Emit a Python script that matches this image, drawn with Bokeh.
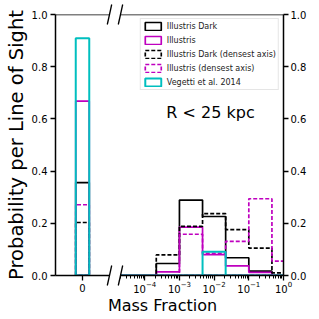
from bokeh.plotting import figure
from bokeh.layouts import row, column
from bokeh.models import (Range1d, FixedTicker, Legend, LegendItem, Label,
                          Span, PrintfTickFormatter)
from bokeh.embed import file_html
from bokeh.resources import INLINE

# ---------------- data ----------------
series_names = ["Illustris Dark", "Illustris", "Illustris Dark (densest axis)",
                "Illustris (densest axis)", "Vegetti et al. 2014"]

# "0" bin (zero mass fraction)
zero_edges = [-0.25, 0.25]
zero_dark = [0.356]
zero_illustris = [0.668]
zero_dark_dense = [0.203]
zero_illustris_dense = [0.271]
zero_vegetti = [0.909]

# log-spaced bins for non-zero mass fraction
bin_edges = [1e-5, 4.64e-5, 2.15e-4, 1e-3, 4.64e-3, 2.15e-2, 1e-1, 4.64e-1, 2.15, 10.0]
dark = [0, 0, 0.046, 0.289, 0.226, 0.068, 0.017, 0, 0]
illustris = [0, 0, 0.014, 0.185, 0.080, 0.037, 0.012, 0, 0]
dark_dense = [0, 0, 0.079, 0.188, 0.237, 0.176, 0.105, 0.010, 0]
illustris_dense = [0, 0, 0, 0.158, 0.085, 0.131, 0.294, 0.055, 0]
vegetti = [0, 0, 0, 0, 0.091, 0, 0, 0, 0]

y_ticks = [0.0, 0.2, 0.4, 0.6, 0.8, 1.0]
x_ticks_log = [1e-4, 1e-3, 1e-2, 1e-1, 1.0]
x_ticks_zero = [0]
annotation_text = "R < 25 kpc"
x_label = "Mass Fraction"
y_label = "Probability per Line of Sight"

# ---------------- styles ----------------
FONT = "DejaVu Sans"
colors = ["black", "#BF00BF", "black", "#BF00BF", "#00BFBF"]
dashes = ["solid", "solid", "4 2", "4 2", "solid"]
widths = [1.7, 1.7, 1.7, 1.7, 2.0]

zero_vals = [zero_dark, zero_illustris, zero_dark_dense, zero_illustris_dense, zero_vegetti]
log_vals = [dark, illustris, dark_dense, illustris_dense, vegetti]


def outline(edges, vals):
    xs = [edges[0]]
    ys = [0.0]
    for i, v in enumerate(vals):
        xs += [edges[i], edges[i + 1]]
        ys += [v, v]
    xs.append(edges[-1])
    ys.append(0.0)
    return xs, ys


def style_axis(ax):
    ax.axis_line_width = 1.5
    ax.axis_line_color = "black"
    ax.major_tick_line_color = "black"
    ax.major_tick_line_width = 1.3
    ax.major_tick_out = 5
    ax.major_tick_in = 0
    ax.minor_tick_line_color = "black"
    ax.minor_tick_out = 3
    ax.minor_tick_in = 0
    ax.major_label_text_font = FONT
    ax.major_label_text_font_size = "10px"
    ax.major_label_text_color = "black"
    ax.axis_label_text_font = FONT
    ax.axis_label_text_font_style = "normal"
    ax.axis_label_text_color = "black"


BT, BB = 14, 21
FH = 261
H = BT + FH + BB  # 296
X1 = (-1.0, 1.0)
X2 = (2e-5, 1.0)

# ---------------- left panel (zero bin) ----------------
BL1, FW1, BR1 = 55, 54, 5
W1 = BL1 + FW1 + BR1
p1 = figure(width=W1, height=H, x_range=Range1d(*X1), y_range=Range1d(0, 1),
            toolbar_location=None, output_backend="svg",
            min_border_left=BL1, min_border_right=BR1, min_border_top=BT, min_border_bottom=BB)
p1.outline_line_color = None
p1.grid.visible = False
style_axis(p1.xaxis[0])
style_axis(p1.yaxis[0])
p1.xaxis.ticker = FixedTicker(ticks=x_ticks_zero)
p1.xaxis.major_label_standoff = 3
p1.yaxis.ticker = FixedTicker(ticks=y_ticks)
p1.yaxis.formatter = PrintfTickFormatter(format="%.1f")
p1.yaxis.minor_tick_line_color = None
p1.yaxis.major_label_standoff = 3
p1.yaxis.axis_label = y_label
p1.yaxis.axis_label_text_font_size = "19.5px"
p1.yaxis.axis_label_standoff = 1

for vals, c, d, w in zip(zero_vals, colors, dashes, widths):
    xs, ys = outline(zero_edges, vals)
    p1.patch(xs, ys, fill_color=None, line_color=c, line_width=w, line_dash=d)

p1.add_layout(Span(location=1, dimension="width", line_color="black", line_width=1.5))

# ---------------- right panel (log bins) ----------------
BL2, FW2, BR2 = 6, 163, 30
W2 = BL2 + FW2 + BR2
p2 = figure(width=W2, height=H, x_axis_type="log",
            x_range=Range1d(*X2), y_range=Range1d(0, 1), y_axis_location="right",
            toolbar_location=None, output_backend="svg",
            min_border_left=BL2, min_border_right=BR2, min_border_top=BT, min_border_bottom=BB)
p2.outline_line_color = None
p2.grid.visible = False
style_axis(p2.xaxis[0])
style_axis(p2.yaxis[0])
p2.xaxis.ticker = FixedTicker(ticks=x_ticks_log,
                              minor_ticks=[m * 10.0 ** e for e in range(-5, 0) for m in range(2, 10)])
p2.xaxis.major_label_standoff = 0
p2.yaxis.ticker = FixedTicker(ticks=y_ticks)
p2.yaxis.formatter = PrintfTickFormatter(format="%.1f")
p2.yaxis.minor_tick_line_color = None
p2.yaxis.major_label_standoff = 2

renderers = []
for vals, c, d, w in zip(log_vals, colors, dashes, widths):
    xs, ys = outline(bin_edges, vals)
    r = p2.patch(xs, ys, fill_color=None, line_color=c, line_width=w, line_dash=d)
    renderers.append(r)

p2.add_layout(Span(location=1, dimension="width", line_color="black", line_width=1.5))

legend = Legend(items=[LegendItem(label=n, renderers=[r]) for n, r in zip(series_names, renderers)],
                location="top_right", label_text_font=FONT, label_text_font_size="8px",
                label_text_color="#222222",
                glyph_width=20, glyph_height=10, label_height=10, label_standoff=4,
                spacing=4, padding=2, margin=4,
                border_line_color="#cccccc", border_line_width=1,
                background_fill_color="white", background_fill_alpha=0.85)
p2.add_layout(legend)

p2.add_layout(Label(x=4.2e-4, y=0.626, text=annotation_text, text_font=FONT,
                    text_font_size="16px", text_baseline="alphabetic", text_color="black"))

# ---------------- transparent overlay: break marks + x label ----------------
WT, HT = 319, 319
ov = figure(width=WT, height=HT, x_range=Range1d(0, WT), y_range=Range1d(HT, 0),
            toolbar_location=None, output_backend="svg",
            x_axis_location=None, y_axis_location=None, min_border=0,
            margin=(-H, 0, 0, 0))
ov.outline_line_color = None
ov.background_fill_color = None
ov.border_fill_color = None
ov.grid.visible = False

SDX, SDY = 2.2, 10.0
cx = [BL1 + FW1, W1 + BL2]          # right edge of left frame, left edge of right frame
cy = [BT, BT + FH]                  # top and bottom spines
x0s, y0s, x1s, y1s = [], [], [], []
for xc in cx:
    for yc in cy:
        x0s.append(xc - SDX); y0s.append(yc + SDY)
        x1s.append(xc + SDX); y1s.append(yc - SDY)
ov.segment(x0s, y0s, x1s, y1s, line_color="black", line_width=1.3)

ov.add_layout(Label(x=162, y=305, text=x_label, text_align="center", text_baseline="alphabetic",
                    text_font=FONT, text_font_size="16px", text_color="black"))

layout = column(row(p1, p2), ov)
open("out.html", "w").write(file_html(layout, INLINE))
